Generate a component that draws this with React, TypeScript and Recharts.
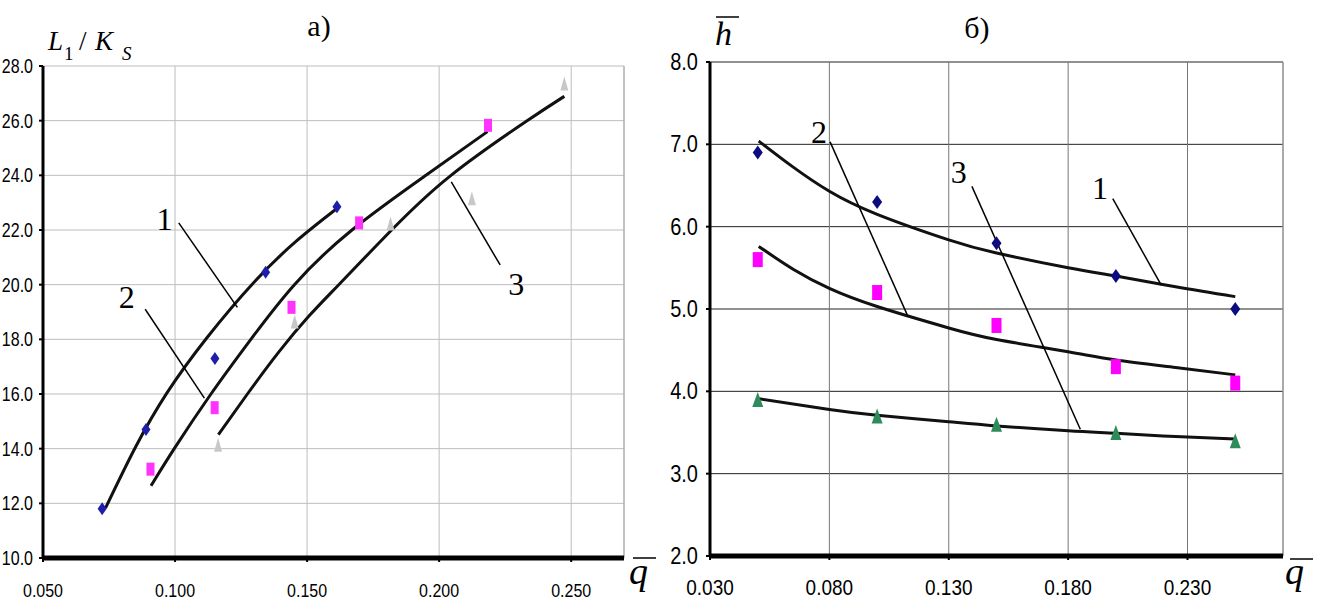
import React from "react";
import {
  CartesianGrid,
  ComposedChart,
  Line,
  ReferenceDot,
  ReferenceLine,
  Scatter,
  XAxis,
  YAxis,
} from "recharts";

// ---- chart a): L1/Ks vs q ----
const A_X_TICKS = [0.05, 0.1, 0.15, 0.2, 0.25];
const A_Y_TICKS = [10, 12, 14, 16, 18, 20, 22, 24, 26, 28];

const A_PTS1 = [
  { x: 0.0724, y: 11.8 },
  { x: 0.089, y: 14.7 },
  { x: 0.1151, y: 17.3 },
  { x: 0.1343, y: 20.45 },
  { x: 0.1613, y: 22.85 },
];
const A_PTS2 = [
  { x: 0.0907, y: 13.25 },
  { x: 0.115, y: 15.5 },
  { x: 0.1441, y: 19.17 },
  { x: 0.1697, y: 22.26 },
  { x: 0.2185, y: 25.83 },
];
const A_PTS3 = [
  { x: 0.1163, y: 14.14 },
  { x: 0.1453, y: 18.65 },
  { x: 0.1816, y: 22.24 },
  { x: 0.2124, y: 23.16 },
  { x: 0.2474, y: 27.36 },
];
const A_CURVE1 = [
  { x: 0.0737, y: 11.83 },
  { x: 0.085, y: 14.05 },
  { x: 0.097, y: 16.05 },
  { x: 0.112, y: 18.05 },
  { x: 0.13, y: 20.1 },
  { x: 0.146, y: 21.6 },
  { x: 0.1608, y: 22.75 },
];
const A_CURVE2 = [
  { x: 0.0909, y: 12.64 },
  { x: 0.0997, y: 14.0 },
  { x: 0.1136, y: 16.0 },
  { x: 0.1287, y: 18.0 },
  { x: 0.1452, y: 20.0 },
  { x: 0.167, y: 22.0 },
  { x: 0.195, y: 24.0 },
  { x: 0.2183, y: 25.6 },
];
const A_CURVE3 = [
  { x: 0.1164, y: 14.51 },
  { x: 0.1274, y: 16.0 },
  { x: 0.1394, y: 17.55 },
  { x: 0.1507, y: 18.85 },
  { x: 0.162, y: 20.0 },
  { x: 0.182, y: 22.0 },
  { x: 0.2045, y: 24.0 },
  { x: 0.2326, y: 25.95 },
  { x: 0.2474, y: 26.89 },
];
// leader lines [from, to] and number labels
const A_LEADERS = [
  [{ x: 0.1014, y: 22.26 }, { x: 0.1236, y: 19.17 }],
  [{ x: 0.0887, y: 19.1 }, { x: 0.1111, y: 15.85 }],
  [{ x: 0.2046, y: 23.76 }, { x: 0.2231, y: 20.72 }],
];
const A_LABELS = [
  { x: 0.096, y: 22.42, text: "1" },
  { x: 0.0817, y: 19.56, text: "2" },
  { x: 0.2292, y: 20.05, text: "3" },
];

// ---- chart б): h vs q ----
const B_X_TICKS = [0.03, 0.08, 0.13, 0.18, 0.23];
const B_Y_TICKS = [2, 3, 4, 5, 6, 7, 8];

const B_PTS1 = [
  { x: 0.05, y: 6.9 },
  { x: 0.1, y: 6.3 },
  { x: 0.15, y: 5.8 },
  { x: 0.2, y: 5.4 },
  { x: 0.25, y: 5.0 },
];
const B_PTS2 = [
  { x: 0.05, y: 5.6 },
  { x: 0.1, y: 5.2 },
  { x: 0.15, y: 4.8 },
  { x: 0.2, y: 4.3 },
  { x: 0.25, y: 4.1 },
];
const B_PTS3 = [
  { x: 0.05, y: 3.9 },
  { x: 0.1, y: 3.7 },
  { x: 0.15, y: 3.6 },
  { x: 0.2, y: 3.5 },
  { x: 0.25, y: 3.4 },
];
const B_CURVE1 = [
  { x: 0.0504, y: 7.04 },
  { x: 0.065, y: 6.72 },
  { x: 0.08, y: 6.43 },
  { x: 0.1, y: 6.15 },
  { x: 0.13, y: 5.84 },
  { x: 0.15, y: 5.68 },
  { x: 0.18, y: 5.5 },
  { x: 0.2, y: 5.4 },
  { x: 0.225, y: 5.27 },
  { x: 0.25, y: 5.15 },
];
const B_CURVE2 = [
  { x: 0.0504, y: 5.76 },
  { x: 0.065, y: 5.48 },
  { x: 0.08, y: 5.25 },
  { x: 0.1, y: 5.03 },
  { x: 0.13, y: 4.77 },
  { x: 0.15, y: 4.63 },
  { x: 0.18, y: 4.48 },
  { x: 0.2, y: 4.38 },
  { x: 0.225, y: 4.29 },
  { x: 0.25, y: 4.2 },
];
const B_CURVE3 = [
  { x: 0.0504, y: 3.91 },
  { x: 0.08, y: 3.78 },
  { x: 0.1, y: 3.71 },
  { x: 0.13, y: 3.63 },
  { x: 0.15, y: 3.58 },
  { x: 0.18, y: 3.52 },
  { x: 0.2, y: 3.49 },
  { x: 0.225, y: 3.45 },
  { x: 0.25, y: 3.42 },
];
const B_LEADERS = [
  [{ x: 0.1987, y: 6.34 }, { x: 0.219, y: 5.29 }],
  [{ x: 0.0803, y: 7.03 }, { x: 0.1129, y: 4.91 }],
  [{ x: 0.1397, y: 6.49 }, { x: 0.1851, y: 3.54 }],
];
const B_LABELS = [
  { x: 0.1934, y: 6.47, text: "1" },
  { x: 0.0757, y: 7.15, text: "2" },
  { x: 0.1342, y: 6.67, text: "3" },
];

const NARROW = "'Liberation Sans Narrow', 'Arial Narrow', 'Liberation Sans', sans-serif";
const SERIF = "'Liberation Serif', 'Times New Roman', serif";

function makeTick(kind: "x" | "y", size: number, stretch: number, dx: number, dy: number, digits: number) {
  return (props: any) => {
    const { x, y, payload } = props;
    const bx = x + dx;
    const by = y + dy;
    return (
      <text
        x={bx}
        y={by}
        textAnchor={kind === "x" ? "middle" : "end"}
        fontSize={size}
        fontFamily={NARROW}
        fill="#000"
        transform={`translate(${bx} ${by}) scale(1 ${stretch}) translate(${-bx} ${-by})`}
      >
        {Number(payload.value).toFixed(digits)}
      </text>
    );
  };
}

const diamond = (w: number, h: number, fill: string) => (p: any) => (
  <polygon
    points={`${p.cx},${p.cy - h / 2} ${p.cx + w / 2},${p.cy} ${p.cx},${p.cy + h / 2} ${p.cx - w / 2},${p.cy}`}
    fill={fill}
  />
);
const square = (w: number, h: number, fill: string) => (p: any) => (
  <rect x={p.cx - w / 2} y={p.cy - h / 2} width={w} height={h} fill={fill} />
);
const triangle = (w: number, h: number, fill: string) => (p: any) => (
  <polygon
    points={`${p.cx},${p.cy - h / 2} ${p.cx + w / 2},${p.cy + h / 2} ${p.cx - w / 2},${p.cy + h / 2}`}
    fill={fill}
  />
);

const numLabel = (text: string) => ({
  value: text,
  position: "center" as const,
  fontSize: 32,
  fontFamily: SERIF,
  fill: "#000",
});

function ChartA() {
  return (
    <ComposedChart width={660} height={601} margin={{ top: 66, right: 36, bottom: 13, left: 0 }}>
      <CartesianGrid stroke="#bdbdbd" strokeWidth={1} />
      <ReferenceLine x={0.27} stroke="#a8a8a8" strokeWidth={1} ifOverflow="visible" />
      <XAxis
        type="number"
        dataKey="x"
        domain={[0.05, 0.27]}
        ticks={A_X_TICKS}
        allowDataOverflow
        height={30}
        axisLine={{ stroke: "#000", strokeWidth: 5 }}
        tickLine={{ stroke: "#000", strokeWidth: 2 }}
        tickSize={4}
        tick={makeTick("x", 16, 1.15, 0, 33, 3)}
      />
      <YAxis
        type="number"
        dataKey="y"
        domain={[10, 28]}
        ticks={A_Y_TICKS}
        allowDataOverflow
        width={43}
        axisLine={{ stroke: "#000", strokeWidth: 3 }}
        tickLine={{ stroke: "#000", strokeWidth: 2 }}
        tickSize={4}
        tick={makeTick("y", 16, 1.25, -4, 7, 1)}
      />
      <Line data={A_CURVE1} dataKey="y" type="natural" stroke="#111" strokeWidth={3} dot={false} isAnimationActive={false} />
      <Line data={A_CURVE2} dataKey="y" type="natural" stroke="#111" strokeWidth={3} dot={false} isAnimationActive={false} />
      <Line data={A_CURVE3} dataKey="y" type="natural" stroke="#111" strokeWidth={3} dot={false} isAnimationActive={false} />
      <Scatter data={A_PTS1} dataKey="y" shape={diamond(9, 13, "#1e1eaa")} isAnimationActive={false} />
      <Scatter data={A_PTS2} dataKey="y" shape={square(8, 13, "#ff33ff")} isAnimationActive={false} />
      <Scatter data={A_PTS3} dataKey="y" shape={triangle(8, 14, "#c8c8c8")} isAnimationActive={false} />
      {A_LEADERS.map((s, i) => (
        <ReferenceLine key={"al" + i} segment={s} stroke="#000" strokeWidth={1.5} ifOverflow="visible" />
      ))}
      {A_LABELS.map((l, i) => (
        <ReferenceDot key={"ad" + i} x={l.x} y={l.y} r={0} fill="none" stroke="none" label={numLabel(l.text)} ifOverflow="visible" />
      ))}
    </ComposedChart>
  );
}

function ChartB() {
  return (
    <ComposedChart width={659} height={601} margin={{ top: 62, right: 36, bottom: 15, left: 0 }}>
      <CartesianGrid stroke="#222" strokeWidth={1} vertical={false} />
      <CartesianGrid stroke="#777" strokeWidth={1} horizontal={false} />
      <ReferenceLine x={0.27} stroke="#999" strokeWidth={1} ifOverflow="visible" />
      <XAxis
        type="number"
        dataKey="x"
        domain={[0.03, 0.27]}
        ticks={B_X_TICKS}
        allowDataOverflow
        height={30}
        axisLine={{ stroke: "#000", strokeWidth: 5 }}
        tickLine={{ stroke: "#000", strokeWidth: 2 }}
        tickSize={4}
        tick={makeTick("x", 19, 1.2, 0, 33, 3)}
      />
      <YAxis
        type="number"
        dataKey="y"
        domain={[2, 8]}
        ticks={B_Y_TICKS}
        allowDataOverflow
        width={50}
        axisLine={{ stroke: "#000", strokeWidth: 3 }}
        tickLine={{ stroke: "#000", strokeWidth: 2 }}
        tickSize={4}
        tick={makeTick("y", 20, 1.2, -6, 8, 1)}
      />
      <Line data={B_CURVE1} dataKey="y" type="natural" stroke="#111" strokeWidth={3} dot={false} isAnimationActive={false} />
      <Line data={B_CURVE2} dataKey="y" type="natural" stroke="#111" strokeWidth={3} dot={false} isAnimationActive={false} />
      <Line data={B_CURVE3} dataKey="y" type="natural" stroke="#111" strokeWidth={3} dot={false} isAnimationActive={false} />
      <Scatter data={B_PTS1} dataKey="y" shape={diamond(10, 14, "#0c0c80")} isAnimationActive={false} />
      <Scatter data={B_PTS2} dataKey="y" shape={square(10, 15, "#ff00ff")} isAnimationActive={false} />
      <Scatter data={B_PTS3} dataKey="y" shape={triangle(11, 15, "#2e8b5a")} isAnimationActive={false} />
      {B_LEADERS.map((s, i) => (
        <ReferenceLine key={"bl" + i} segment={s} stroke="#000" strokeWidth={1.5} ifOverflow="visible" />
      ))}
      {B_LABELS.map((l, i) => (
        <ReferenceDot key={"bd" + i} x={l.x} y={l.y} r={0} fill="none" stroke="none" label={numLabel(l.text)} ifOverflow="visible" />
      ))}
    </ComposedChart>
  );
}

export default function App() {
  return (
    <div style={{ position: "absolute", left: 0, top: 0, width: 1319, height: 601, background: "#fff", overflow: "hidden" }}>
      <div style={{ position: "absolute", left: 0, top: 0 }}>
        <ChartA />
      </div>
      <div style={{ position: "absolute", left: 660, top: 0 }}>
        <ChartB />
      </div>
      <svg width={1319} height={601} style={{ position: "absolute", left: 0, top: 0, pointerEvents: "none" }}>
        <text x={319} y={36} textAnchor="middle" fontSize={30} fontFamily={SERIF}>а)</text>
        <text x={977} y={38} textAnchor="middle" fontSize={30} fontFamily={SERIF}>б)</text>

        <text fontFamily={SERIF} fill="#000">
          <tspan x={48} y={50} fontSize={27} fontStyle="italic">L</tspan>
          <tspan x={64} y={60} fontSize={19}>1</tspan>
          <tspan x={79} y={50} fontSize={27}>/</tspan>
          <tspan x={95} y={50} fontSize={27} fontStyle="italic">K</tspan>
          <tspan x={122} y={60} fontSize={19} fontStyle="italic">S</tspan>
        </text>

        <text x={715} y={45} fontSize={34} fontStyle="italic" fontFamily={SERIF}>h</text>
        <line x1={716} y1={17} x2={739} y2={17} stroke="#000" strokeWidth={1.5} />

        <text x={629} y={584} fontSize={38} fontStyle="italic" fontFamily={SERIF}>q</text>
        <line x1={633} y1={558} x2={656} y2={558} stroke="#000" strokeWidth={1.5} />

        <text x={1285} y={584} fontSize={38} fontStyle="italic" fontFamily={SERIF}>q</text>
        <line x1={1290} y1={559} x2={1313} y2={559} stroke="#000" strokeWidth={1.5} />
      </svg>
    </div>
  );
}
